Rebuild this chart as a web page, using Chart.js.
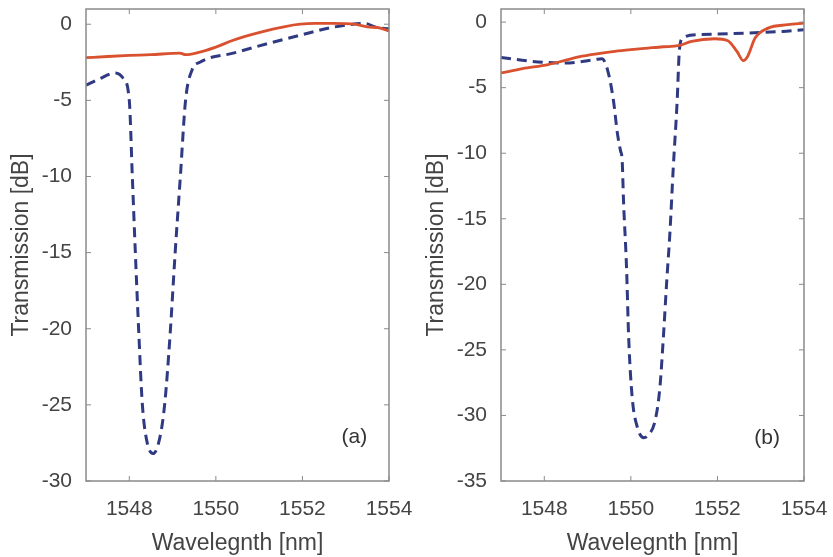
<!DOCTYPE html>
<html>
<head>
<meta charset="utf-8">
<script src="https://cdn.jsdelivr.net/npm/chart.js@4"></script>
<style>
	html, body { margin: 0; padding: 0; background: #fff; }
	#wrap { position: relative; width: 833px; height: 557px; }
	#chart-a { position: absolute; left: 0; top: 0; }
	#chart-b { position: absolute; left: 415px; top: 0; }
</style>
</head>
<body>
<div id="wrap">
	<canvas id="chart-a" width="415" height="557"></canvas>
	<canvas id="chart-b" width="418" height="557"></canvas>
</div>
<script>
// panel (a)
const redAX = [1547, 1547.5, 1548, 1548.5, 1549.17, 1549.3, 1549.56, 1550, 1550.4, 1550.8, 1551.2, 1551.6, 1551.95, 1552.3, 1552.7, 1553.2, 1553.5, 1553.8, 1554];
const redAY = [-2.2, -2.12, -2.05, -2.0, -1.9, -2.0, -1.88, -1.5, -1.05, -0.7, -0.4, -0.15, 0.0, 0.05, 0.05, 0.0, -0.17, -0.25, -0.44];
const blueAX = [1547, 1547.3, 1547.67, 1547.86, 1548.0, 1548.07, 1548.14, 1548.22, 1548.3, 1548.4, 1548.55, 1548.71, 1548.82, 1548.94, 1549.06, 1549.18, 1549.3, 1549.45, 1549.63, 1550.4, 1551.2, 1551.95, 1552.7, 1553.45, 1553.7, 1554];
const blueAY = [-4.0, -3.6, -3.2, -3.55, -5.0, -10, -15, -20.3, -24.9, -27.3, -28.2, -27.1, -24.9, -20.5, -15, -10, -5, -3.0, -2.5, -1.9, -1.27, -0.72, -0.2, 0.05, -0.2, -0.3];

// panel (b)
const redBX = [1547, 1547.5, 1548.09, 1548.5, 1548.87, 1549.25, 1549.63, 1550, 1550.4, 1550.75, 1551.1, 1551.4, 1551.94, 1552.24, 1552.45, 1552.6, 1552.7, 1552.87, 1553.17, 1553.63, 1554];
const redBY = [-3.88, -3.55, -3.24, -2.9, -2.6, -2.4, -2.23, -2.1, -1.98, -1.88, -1.8, -1.47, -1.27, -1.42, -2.23, -2.94, -2.6, -1.22, -0.46, -0.2, -0.08];
const blueBX = [1547, 1547.7, 1548.48, 1549.17, 1549.33, 1549.47, 1549.6, 1549.69, 1549.76, 1549.8, 1549.83, 1549.9, 1549.95, 1550.03, 1550.15, 1550.3, 1550.4, 1550.56, 1550.67, 1550.75, 1550.83, 1550.9, 1550.98, 1551.07, 1551.12, 1551.2, 1551.55, 1552.7, 1553.5, 1554];
const blueBY = [-2.69, -2.99, -3.12, -2.86, -2.79, -3.75, -6.03, -8.5, -9.8, -10.6, -13.6, -18.7, -24.1, -28.6, -30.9, -31.7, -31.5, -30.4, -27.9, -24.1, -19.7, -16.2, -11.1, -6.0, -2.2, -1.22, -0.96, -0.84, -0.71, -0.58];

// axes
const xTicks = [1548, 1550, 1552, 1554];
const yTicksA = [0, -5, -10, -15, -20, -25, -30];
const yTicksB = [0, -5, -10, -15, -20, -25, -30, -35];

// panel labels
const panelLabels = ['(a)', '(b)'];
const panelLabelX = [1553.2, 1553.15];
const panelLabelY = [-27.1, -31.7];

const textColor = '#444';
const frameColor = '#8a8a8a';
const fontFamily = '"Liberation Sans", Arial, sans-serif';

function toPoints(xs, ys) {
	return xs.map((x, i) => ({x: x, y: ys[i]}));
}

// no extra room for edge labels, the layout padding handles it
function noPadding(s) {
	s.paddingTop = 0;
	s.paddingBottom = 0;
	s.paddingLeft = 0;
	s.paddingRight = 0;
}

// MATLAB style box with inward ticks, plus the (a)/(b) text
const framePlugin = {
	id: 'frame',
	afterDraw(chart, args, opts) {
		const ctx = chart.ctx;
		const area = chart.chartArea;
		const xs = chart.scales.x;
		const ys = chart.scales.y;
		const tl = 5;
		ctx.save();
		ctx.strokeStyle = frameColor;
		ctx.lineWidth = 1.5;
		ctx.strokeRect(area.left, area.top, area.right - area.left, area.bottom - area.top);
		ctx.lineWidth = 1;
		ctx.beginPath();
		for (let t of xs.ticks) {
			const px = xs.getPixelForValue(t.value);
			ctx.moveTo(px, area.bottom);
			ctx.lineTo(px, area.bottom - tl);
			ctx.moveTo(px, area.top);
			ctx.lineTo(px, area.top + tl);
		}
		for (let t of ys.ticks) {
			const py = ys.getPixelForValue(t.value);
			ctx.moveTo(area.left, py);
			ctx.lineTo(area.left + tl, py);
			ctx.moveTo(area.right, py);
			ctx.lineTo(area.right - tl, py);
		}
		ctx.stroke();
		ctx.fillStyle = '#333';
		ctx.font = '21px ' + fontFamily;
		ctx.textAlign = 'center';
		ctx.textBaseline = 'middle';
		ctx.fillText(opts.text, xs.getPixelForValue(opts.x), ys.getPixelForValue(opts.y));
		ctx.restore();
	}
};

function makePanel(canvasId, red, blue, yTicks, idx, rightPad) {
	const canvas = document.getElementById(canvasId);
	new Chart(canvas, {
		type: 'line',
		data: {
			datasets: [
				{
					label: 'Red',
					data: red,
					borderColor: '#d9512f',
					borderWidth: 2.8,
					pointRadius: 0,
					cubicInterpolationMode: 'monotone',
					fill: false,
				},
				{
					label: 'Blue',
					data: blue,
					borderColor: '#2f3a82',
					borderWidth: 3,
					borderDash: [10, 6],
					pointRadius: 0,
					cubicInterpolationMode: 'monotone',
					fill: false,
				},
			]
		},
		options: {
			responsive: false,
			animation: false,
			layout: {
				padding: {top: 9, right: rightPad, left: 0, bottom: 0}
			},
			plugins: {
				legend: {display: false},
				tooltip: {enabled: false},
				frame: {
					text: panelLabels[idx],
					x: panelLabelX[idx],
					y: panelLabelY[idx],
				},
			},
			scales: {
				x: {
					type: 'linear',
					min: 1547,
					max: 1554,
					grid: {display: false},
					border: {display: false},
					afterBuildTicks: s => { s.ticks = xTicks.map(v => ({value: v})); },
					afterFit: s => { s.height = 76; noPadding(s); },
					ticks: {
						color: textColor,
						padding: 8,
						maxRotation: 0,
						autoSkip: false,
						font: {family: fontFamily, size: 21},
						callback: v => String(v),
					},
					title: {
						display: true,
						text: 'Wavelegnth [nm]',
						color: textColor,
						padding: {top: 0, bottom: 0},
						font: {family: fontFamily, size: 23},
					}
				},
				y: {
					type: 'linear',
					min: yTicks[yTicks.length - 1],
					max: 1,
					grid: {display: false},
					border: {display: false},
					afterBuildTicks: s => { s.ticks = yTicks.map(v => ({value: v})); },
					afterFit: s => { s.width = 86; noPadding(s); },
					ticks: {
						color: textColor,
						padding: 6,
						autoSkip: false,
						font: {family: fontFamily, size: 21},
					},
					title: {
						display: true,
						text: 'Transmission [dB]',
						color: textColor,
						padding: {top: 8, bottom: 0},
						font: {family: fontFamily, size: 23},
					}
				}
			}
		},
		plugins: [framePlugin]
	});
}

makePanel('chart-a', toPoints(redAX, redAY), toPoints(blueAX, blueAY), yTicksA, 0, 26);
makePanel('chart-b', toPoints(redBX, redBY), toPoints(blueBX, blueBY), yTicksB, 1, 29);
</script>
</body>
</html>
